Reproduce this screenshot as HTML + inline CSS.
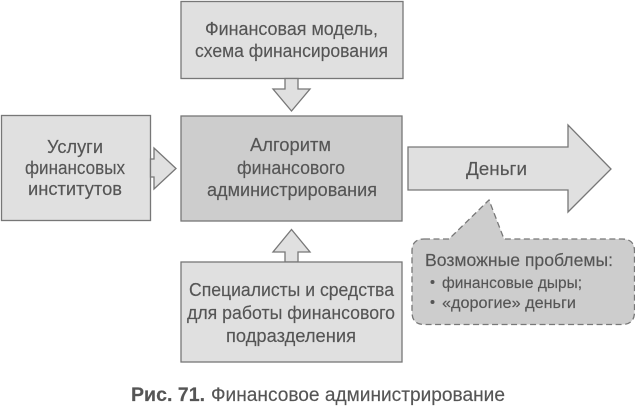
<!DOCTYPE html>
<html lang="ru">
<head>
<meta charset="utf-8">
<style>
html,body{margin:0;padding:0;background:#fff;width:635px;height:407px;overflow:hidden}
svg{display:block}
text{font-family:"Liberation Sans","DejaVu Sans",sans-serif;fill:#555;stroke:#555;stroke-width:.15;font-size:18px;text-anchor:middle}
.s{font-size:15.5px;text-anchor:start}
.st{font-size:17.8px;text-anchor:start}
.c{font-size:19px;text-anchor:start}
</style>
</head>
<body>
<svg width="635" height="407" viewBox="0 0 635 407" xmlns="http://www.w3.org/2000/svg">
<g stroke="#777" stroke-width="1.3" fill="#e0e0e0">
<rect x="181" y="1.5" width="222" height="77"/>
<polygon points="285,78.5 285,89 273,89 291.500,111 310,89 298,89 298,78.500"/>
<rect x="1.500" y="115.500" width="149" height="105"/>
<polygon points="150.500,159 154,159 154,148 176,168.500 154,189 154,177 150.500,177"/>
<rect x="181" y="116" width="221" height="105" fill="#cdcdcd"/>
<polygon points="408,147 568,147 568,125 611,169 568,212 568,190 408,190"/>
<polygon points="285,262 285,252 273,252 291.500,229.500 310,252 298,252 298,262"/>
<rect x="181" y="262" width="221" height="100"/>
<path d="M424,239 H449 L489,200 L504,239 H622 Q634.500,239 634.500,251 V312 Q634.500,324.500 622,324.500 H424 Q412,324.500 412,312 V251 Q412,239 424,239 Z" fill="#cdcdcd" stroke-dasharray="6 3.500"/>
</g>
<text x="291.500" y="35" textLength="173" lengthAdjust="spacingAndGlyphs">Финансовая модель,</text>
<text x="291.500" y="57" textLength="193" lengthAdjust="spacingAndGlyphs">схема финансирования</text>
<text x="75" y="153" textLength="56" lengthAdjust="spacingAndGlyphs">Услуги</text>
<text x="75" y="174" textLength="100" lengthAdjust="spacingAndGlyphs">финансовых</text>
<text x="75" y="195" textLength="94" lengthAdjust="spacingAndGlyphs">институтов</text>
<text x="290.500" y="151" textLength="81" lengthAdjust="spacingAndGlyphs">Алгоритм</text>
<text x="291" y="174" textLength="108" lengthAdjust="spacingAndGlyphs">финансового</text>
<text x="292" y="196" textLength="170" lengthAdjust="spacingAndGlyphs">администрирования</text>
<text x="496.500" y="175" textLength="61" lengthAdjust="spacingAndGlyphs">Деньги</text>
<text x="291.500" y="296" textLength="205" lengthAdjust="spacingAndGlyphs">Специалисты и средства</text>
<text x="291" y="319" textLength="208" lengthAdjust="spacingAndGlyphs">для работы финансового</text>
<text x="291" y="342" textLength="130" lengthAdjust="spacingAndGlyphs">подразделения</text>
<text class="st" x="425" y="266" textLength="188" lengthAdjust="spacingAndGlyphs">Возможные проблемы:</text>
<circle cx="432.500" cy="282" r="2" fill="#555"/>
<circle cx="432.500" cy="302" r="2" fill="#555"/>
<text class="s" x="442" y="288" textLength="140" lengthAdjust="spacingAndGlyphs">финансовые дыры;</text>
<text class="s" x="442" y="308" textLength="134" lengthAdjust="spacingAndGlyphs">«дорогие» деньги</text>
<text class="c" x="131" y="401" font-weight="bold" textLength="74" lengthAdjust="spacingAndGlyphs">Рис. 71.</text>
<text class="c" x="211" y="401" textLength="294" lengthAdjust="spacingAndGlyphs">Финансовое администрирование</text>
</svg>
</body>
</html>
